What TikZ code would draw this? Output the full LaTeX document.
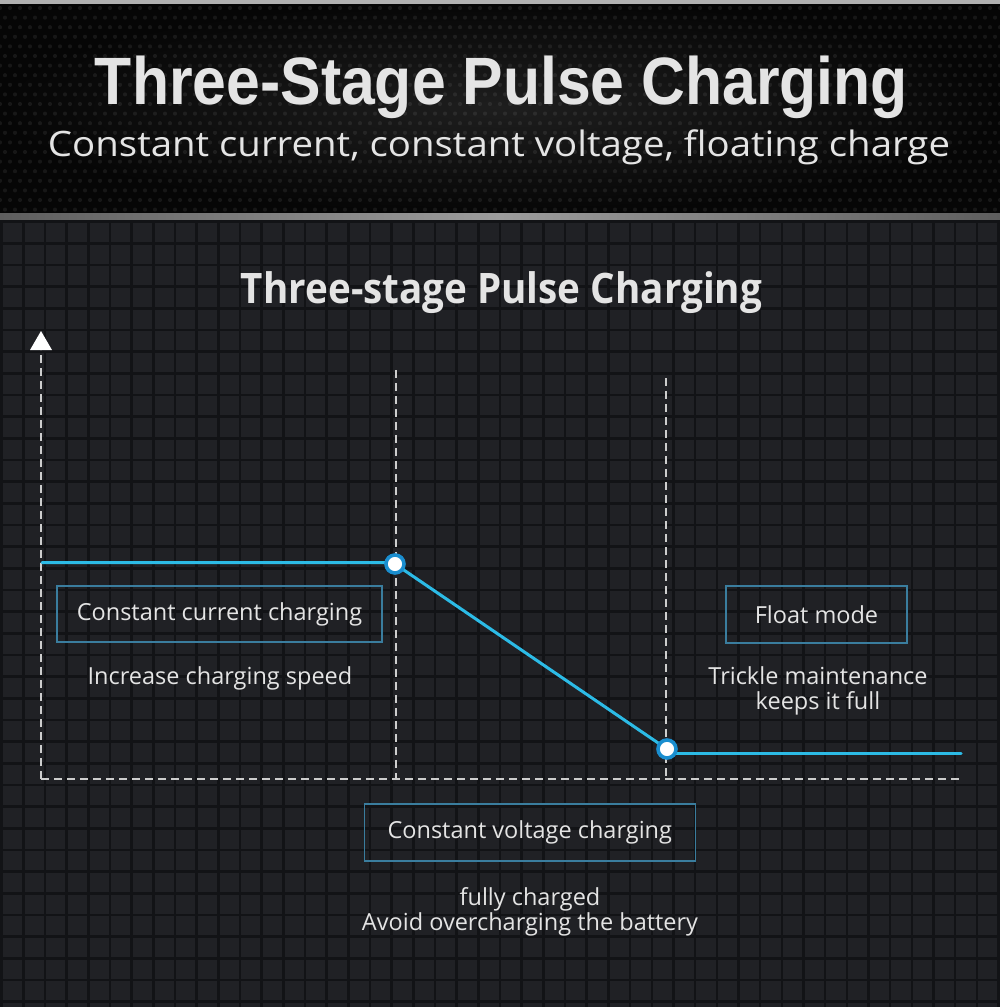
\documentclass[tikz,border=0pt]{standalone}
\usepackage{fontspec}
\setmainfont{Open Sans}
\newfontfamily\hdrfont{Liberation Sans}
\usetikzlibrary{arrows.meta}
\definecolor{tile}{HTML}{202125}
\definecolor{gridc}{HTML}{121316}
\definecolor{hdrin}{HTML}{1E1E1E}
\definecolor{hdrout}{HTML}{060606}
\definecolor{txt}{HTML}{E4E4E4}
\definecolor{boxc}{HTML}{3A7D9E}
\definecolor{curvec}{HTML}{2CBBE6}
\definecolor{dotc}{HTML}{1A8ECF}
\definecolor{axisc}{HTML}{CDCDCD}
\definecolor{barside}{HTML}{5E5E5E}
\definecolor{barmid}{HTML}{9C9C9C}
\definecolor{topbar}{HTML}{B2B2B2}
\tikzset{
  gridline/.style={draw=gridc, line width=2.6pt},
  axisline/.style={draw=axisc, line width=2pt, dash pattern=on 8pt off 5pt},
  curveline/.style={draw=curvec, line width=3pt, line cap=round},
  knot/.style={circle, fill=white, draw=dotc, line width=3.6pt, minimum size=18pt, inner sep=0pt},
  stagebox/.style={draw=boxc, line width=1.6pt, minimum height=56pt, inner sep=0pt, text=txt, font=\fontsize{23.5}{26}\selectfont},
  note/.style={text=txt, font=\fontsize{23.5}{25}\selectfont, align=center, inner sep=0pt},
  carbon/.style={fill=white, fill opacity=0.07}
}
\begin{document}
\begin{tikzpicture}[x=1pt,y=-1pt]
\useasboundingbox (0,0) rectangle (1000,1007);
% grid background
\fill[tile] (0,217) rectangle (1000,1007);
\foreach \i in {0,...,46} { \draw[gridline] ({1.7+21.67*\i},217) -- ({1.7+21.67*\i},1007); }
\foreach \k in {0,...,36} { \draw[gridline] (0,{221.6+21.67*\k}) -- (1000,{221.6+21.67*\k}); }
% header
\shade[inner color=hdrin, outer color=hdrout] (0,0) rectangle (1000,214);
\foreach \r in {0,...,21} {
  \foreach \c in {0,...,100} {
    \fill[carbon] ({\c*10+mod(\r,2)*5},{8+\r*9.6}) circle (2.1);
  }
}
\fill[topbar] (0,0) rectangle (1000,4);
\shade[left color=barside, right color=barside, middle color=barmid] (0,213) rectangle (1000,219);
\node[anchor=base, text=txt, inner sep=0pt] (title) at (501.5,104)
  {\hdrfont\bfseries\fontsize{67}{67}\selectfont\resizebox{813pt}{\height}{Three-Stage Pulse Charging}};
\node[anchor=base, text=txt, inner sep=0pt] (subtitle) at (499,156)
  {\fontsize{35}{35}\selectfont\resizebox{902pt}{\height}{Constant current, constant voltage, floating charge}};
% chart title
\node[anchor=base, text=txt, inner sep=0pt] (ctitle) at (501.5,303)
  {\bfseries\fontsize{42}{42}\selectfont\resizebox{521pt}{\height}{Three-stage Pulse Charging}};
% axes
\coordinate (O) at (41,779);
\coordinate (ytop) at (41,331);
\coordinate (xend) at (962,779);
\draw[axisline, -{Triangle[width=22pt,length=19pt,fill=white,color=white,line width=0pt]}] (O) -- (ytop);
\draw[axisline] (O) -- (xend);
\coordinate (v1top) at (396,370);
\coordinate (v1bot) at (396,779);
\coordinate (v2top) at (666,378);
\coordinate (v2bot) at (666,779);
\draw[axisline] (v1top) -- (v1bot);
\draw[axisline] (v2top) -- (v2bot);
% curve
\coordinate (c0) at (42,562.5);
\coordinate (k1) at (395,564);
\coordinate (k2) at (667,749);
\coordinate (cend) at (961,753);
\draw[curveline] (c0) -- (k1 |- c0) -- (k1) -- (k2);
\draw[curveline] (k2 |- cend) -- (cend);
\node[knot] (n1) at (k1) {};
\node[knot] (n2) at (k2) {};
% stage boxes
\node[stagebox, minimum width=325pt] (cc) at (219.5,614) {Constant current charging};
\node[stagebox, minimum width=181.5pt, minimum height=57pt] (fm) at (816.5,614.2) {Float mode};
\node[stagebox, minimum width=331pt, minimum height=57pt] (cv) at (529.8,832.5) {Constant voltage charging};
% notes
\node[note] (ccn) at (220,678) {Increase charging speed};
\node[note] (fmn) at (818,691) {Trickle maintenance\\keeps it full};
\node[note] (cvn) at (530,912) {fully charged\\Avoid overcharging the battery};
\end{tikzpicture}
\end{document}
